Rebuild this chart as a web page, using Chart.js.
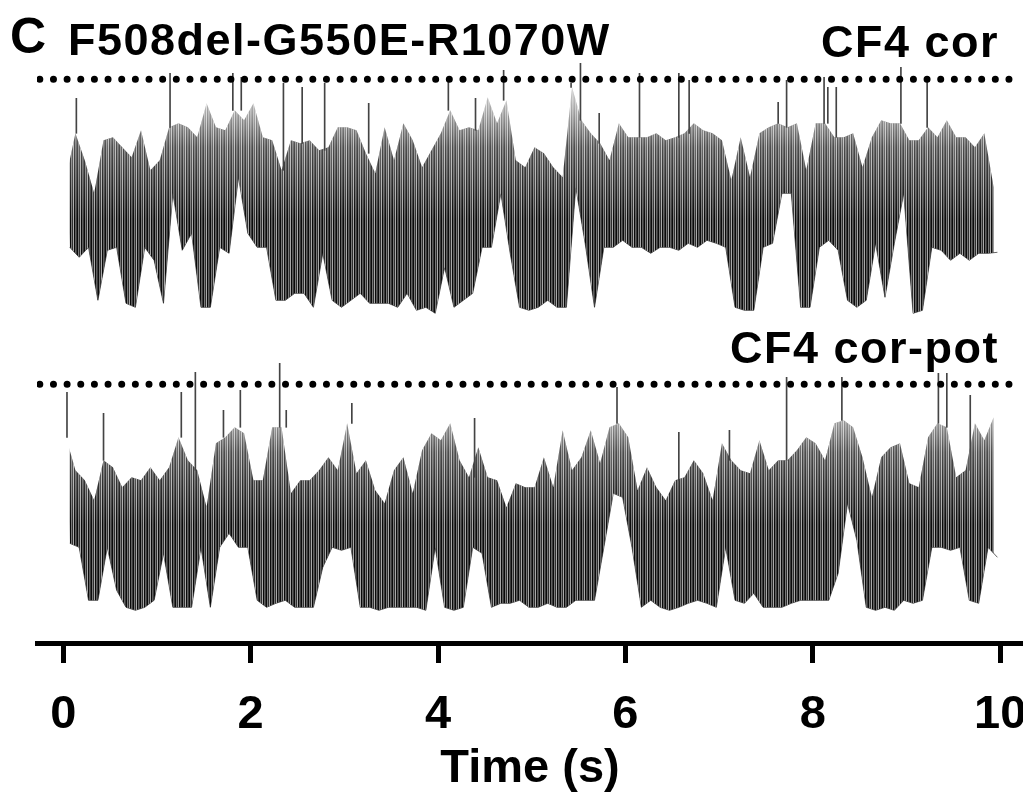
<!DOCTYPE html>
<html>
<head>
<meta charset="utf-8">
<script src="https://cdn.jsdelivr.net/npm/chart.js@4"></script>
<style>
  html, body { margin: 0; padding: 0; background: #fff; }
  #wrap { width: 1023px; height: 792px; position: relative; }
</style>
</head>
<body>
<div id="wrap"><canvas id="trace"></canvas></div>
<script>
/* ### Data (current relative to the dotted level, 0.1 s bins) ### */

const BIN = 0.1;
const timeTicks = [0, 2, 4, 6, 8, 10];

// CF4 cor : upper / lower edge of the trace in each bin
const topHi = [-0.98,-0.54,-0.81,-1.14,-0.61,-0.58,-0.68,-0.78,-0.51,-0.91,
  -0.81,-0.48,-0.44,-0.48,-0.58,-0.24,-0.48,-0.51,-0.31,-0.41,
  -0.24,-0.58,-0.61,-0.91,-0.61,-0.64,-0.61,-0.71,-0.68,-0.48,
  -0.48,-0.51,-0.74,-0.94,-0.48,-0.81,-0.44,-0.61,-0.88,-0.71,
  -0.54,-0.31,-0.51,-0.48,-0.51,-0.18,-0.44,-0.21,-0.81,-0.88,
  -0.68,-0.74,-0.88,-0.98,-0.08,-0.41,-0.54,-0.64,-0.81,-0.44,
  -0.58,-0.58,-0.58,-0.54,-0.61,-0.58,-0.54,-0.44,-0.51,-0.54,
  -0.61,-1.01,-0.58,-0.98,-0.54,-0.48,-0.44,-0.48,-0.44,-0.91,
  -0.44,-0.44,-0.58,-0.58,-0.54,-0.88,-0.58,-0.41,-0.44,-0.44,
  -0.61,-0.61,-0.48,-0.58,-0.41,-0.58,-0.58,-0.68,-0.54,-1.08];
const topLo = [-1.68,-1.78,-1.68,-2.21,-1.71,-1.68,-2.24,-2.28,-1.68,-1.81,
  -2.24,-1.14,-1.71,-1.54,-2.28,-2.28,-1.68,-1.74,-0.98,-1.54,
  -1.68,-1.68,-2.21,-2.21,-2.14,-2.14,-2.28,-1.74,-2.21,-2.28,
  -2.21,-2.14,-2.24,-2.24,-2.24,-2.28,-2.14,-2.31,-2.28,-2.34,
  -1.88,-2.28,-2.21,-2.14,-1.68,-1.68,-1.14,-1.74,-2.28,-2.31,
  -2.28,-2.21,-2.28,-2.28,-1.08,-1.64,-2.28,-1.68,-1.68,-1.61,
  -1.68,-1.68,-1.74,-1.68,-1.68,-1.71,-1.64,-1.68,-1.61,-1.64,
  -1.68,-2.28,-2.31,-2.31,-1.68,-1.64,-1.14,-1.14,-2.28,-2.28,
  -1.68,-1.61,-1.71,-2.21,-2.28,-2.21,-1.64,-2.18,-1.64,-1.14,
  -2.34,-2.31,-1.68,-1.71,-1.81,-1.74,-1.81,-1.74,-1.74,-1.73];
// brief full openings (time, peak)
const topSpikeT = [0.14, 1.14, 1.81, 1.90, 2.35, 2.55, 2.79, 3.26, 4.11, 4.40, 4.70, 5.42,
  5.52, 5.72, 6.15, 6.57, 6.68, 7.63, 7.72, 8.12, 8.16, 8.25, 8.94, 9.22];
const topSpikeV = [-0.19, 0.06, 0.06, 0.02, -0.04, -0.08, -0.04, -0.24, 0.02, -0.19, 0.09, -0.04,
  0.16, -0.34, 0.06, 0.06, -0.01, -0.23, -0.01, 0.02, -0.08, -0.08, 0.12, -0.01];

// CF4 cor-pot
const botHi = [-0.53,-0.86,-0.96,-1.16,-0.76,-0.83,-1.03,-0.93,-0.96,-0.83,
  -0.96,-0.83,-0.53,-0.76,-0.86,-1.23,-0.59,-0.53,-0.43,-0.49,
  -0.96,-0.96,-0.43,-0.43,-1.09,-0.96,-0.96,-0.86,-0.73,-0.86,
  -0.39,-0.89,-0.76,-1.06,-1.19,-0.86,-0.73,-1.09,-0.66,-0.49,
  -0.56,-0.39,-0.76,-0.93,-0.63,-0.93,-0.96,-1.23,-0.99,-1.03,
  -1.03,-0.73,-1.03,-0.46,-0.86,-0.73,-0.46,-0.79,-0.43,-0.39,
  -0.53,-1.06,-0.83,-1.03,-1.16,-0.96,-0.93,-0.76,-0.89,-1.16,
  -0.59,-0.76,-0.86,-0.89,-0.56,-0.86,-0.76,-0.76,-0.66,-0.53,
  -0.59,-0.76,-0.39,-0.36,-0.43,-0.73,-1.13,-0.73,-0.63,-0.59,
  -0.99,-1.03,-0.53,-0.39,-0.43,-0.93,-0.86,-0.39,-0.56,-0.33];
const botLo = [-1.59,-1.63,-2.16,-2.16,-1.63,-2.06,-2.23,-2.26,-2.23,-2.16,
  -1.69,-2.23,-2.23,-2.23,-1.63,-2.23,-1.63,-1.49,-1.63,-1.63,
  -2.16,-2.23,-2.19,-2.16,-2.23,-2.23,-2.23,-1.83,-1.63,-1.66,
  -1.63,-2.23,-2.23,-2.26,-2.23,-2.23,-2.23,-2.23,-2.26,-1.63,
  -2.23,-2.26,-2.23,-1.63,-1.69,-2.23,-2.19,-2.19,-2.16,-2.23,
  -2.23,-2.19,-2.23,-2.23,-2.16,-2.16,-2.16,-1.63,-1.09,-1.13,
  -1.63,-2.23,-2.16,-2.23,-2.26,-2.23,-2.19,-2.16,-2.19,-2.23,
  -1.63,-2.16,-2.19,-2.09,-2.23,-2.23,-2.23,-2.19,-2.16,-2.16,
  -2.16,-2.16,-1.89,-1.19,-1.56,-2.23,-2.26,-2.23,-2.26,-2.16,
  -2.19,-2.16,-1.63,-1.63,-1.66,-1.63,-2.16,-2.19,-1.63,-1.73];
const botSpikeT = [0.04, 0.43, 1.26, 1.41, 1.71, 1.89, 2.31, 2.38, 3.08, 4.39, 5.91,
  6.57, 7.11, 7.72, 8.31, 9.34, 9.43, 9.68];
const botSpikeV = [-0.08, -0.29, -0.08, 0.12, -0.26, -0.06, 0.21, -0.26, -0.19, -0.34, -0.03,
  -0.48, -0.46, 0.07, 0.07, 0.11, 0.11, -0.11];

const BOTTOM_OFFSET = -3.05; // second sweep drawn below the first

/* ### Helpers ### */

// light vertical streaks over the band (texture only), alpha per column
const STREAK_ALPHA = [0, 0.45, 0.15, 0.65, 0, 0.35, 0.2];

function streakPattern() {
  const c = document.createElement('canvas');
  c.width = STREAK_ALPHA.length;
  c.height = 1;
  const g = c.getContext('2d');
  STREAK_ALPHA.forEach((a, i) => {
    g.fillStyle = 'rgba(255,255,255,' + a + ')';
    g.fillRect(i, 0, 1, 1);
  });
  return g.createPattern(c, 'repeat');
}

// dense part of the record is darker than its spiky upper side
function shade(off) {
  return (context) => {
    const chart = context.chart;
    if (!chart.chartArea) return '#555';
    const y = chart.scales.y;
    const g = chart.ctx.createLinearGradient(0, y.getPixelForValue(off - 0.2), 0, y.getPixelForValue(off - 1.4));
    g.addColorStop(0, '#bdbdbd');
    g.addColorStop(0.4, '#4c4c4c');
    g.addColorStop(1, '#0a0a0a');
    return g;
  };
}

function edge(values, off, phase) {
  return values.map((v, i) => ({ x: i * BIN + phase, y: v + off }));
}

function spikes(t, v, hi, off) {
  return t.map((s, i) => {
    let k = Math.min(hi.length - 1, Math.floor(s / BIN));
    return { x: s, y: [hi[k] + off, v[i] + off] };
  });
}

function dotted(off) {
  return {
    type: 'line',
    data: [{ x: -0.25, y: off }, { x: 10.22, y: off }],
    borderColor: '#000',
    borderWidth: 7,
    borderDash: [0, 13.65],
    borderCapStyle: 'round',
    pointRadius: 0,
    order: 0
  };
}

// upper edge, filled down to the lower-edge dataset
function upper(hi, off, target, bg, order) {
  return {
    type: 'line',
    data: edge(hi, off, 0.03),
    borderWidth: 0,
    pointRadius: 0,
    tension: 0,
    fill: target,
    backgroundColor: bg,
    order: order
  };
}

function lower(lo, off) {
  return {
    type: 'line',
    data: edge(lo, off, 0.07),
    borderColor: 'rgba(0,0,0,0.6)',
    borderWidth: 1,
    pointRadius: 0,
    tension: 0,
    fill: false,
    order: 3
  };
}

function spikeBars(t, v, hi, off) {
  return {
    type: 'bar',
    data: spikes(t, v, hi, off),
    backgroundColor: '#444',
    barThickness: 1,
    grouped: false,
    order: 0
  };
}

/* ### Panel text ### */

const panelText = {
  id: 'panelText',
  afterDraw(chart) {
    const ctx = chart.ctx;
    ctx.save();
    ctx.fillStyle = '#000';
    ctx.textBaseline = 'alphabetic';
    ctx.textAlign = 'left';
    ctx.font = 'bold 50px "Liberation Sans", Arial, sans-serif';
    ctx.fillText('C', 10, 53);
    ctx.font = 'bold 45px "Liberation Sans", Arial, sans-serif';
    ctx.letterSpacing = '1.5px';
    ctx.fillText('F508del-G550E-R1070W', 68, 55);
    ctx.textAlign = 'right';
    ctx.fillText('CF4 cor', 999, 57);
    ctx.fillText('CF4 cor-pot', 999, 363);
    ctx.restore();
  }
};

/* ### Chart ### */

Chart.defaults.font.family = '"Liberation Sans", Arial, sans-serif';
Chart.defaults.color = '#000';

new Chart(document.getElementById('trace'), {
  type: 'line',
  data: {
    datasets: [
      dotted(0),                                                 // 0
      dotted(BOTTOM_OFFSET),                                     // 1
      lower(topLo, 0),                                           // 2
      upper(topHi, 0, 2, shade(0), 2),                           // 3 (drawn first)
      upper(topHi, 0, 2, streakPattern(), 1),                    // 4 (over it)
      lower(botLo, BOTTOM_OFFSET),                               // 5
      upper(botHi, BOTTOM_OFFSET, 5, shade(BOTTOM_OFFSET), 2),   // 6
      upper(botHi, BOTTOM_OFFSET, 5, streakPattern(), 1),        // 7
      spikeBars(topSpikeT, topSpikeV, topHi, 0),
      spikeBars(botSpikeT, botSpikeV, botHi, BOTTOM_OFFSET)
    ]
  },
  options: {
    responsive: true,
    maintainAspectRatio: false,
    animation: false,
    layout: { padding: { left: 37, right: 0, top: 0, bottom: 0 } },
    plugins: { legend: { display: false }, tooltip: { enabled: false } },
    scales: {
      x: {
        type: 'linear',
        min: -0.28,
        max: 10.243,
        offset: false,
        afterBuildTicks: (s) => { s.ticks = timeTicks.map(v => ({ value: v })); },
        afterFit: (s) => { s.height = 149; s.paddingLeft = 0; s.paddingRight = 0; },
        ticks: {
          autoSkip: false,
          maxRotation: 0,
          padding: 24,
          color: '#000',
          font: { size: 47, weight: 'bold' },
          callback: (v) => String(v)
        },
        grid: {
          display: true,
          offset: false,
          drawOnChartArea: false,
          drawTicks: true,
          tickLength: 20,
          tickWidth: 5,
          tickColor: '#000'
        },
        border: { display: true, color: '#000', width: 5 },
        title: {
          display: true,
          text: 'Time (s)',
          color: '#000',
          font: { size: 47, weight: 'bold' },
          padding: { top: 0, bottom: -5 }
        }
      },
      y: {
        display: false,
        min: -5.637,
        max: 0.793
      }
    }
  },
  plugins: [panelText]
});
</script>
</body>
</html>
